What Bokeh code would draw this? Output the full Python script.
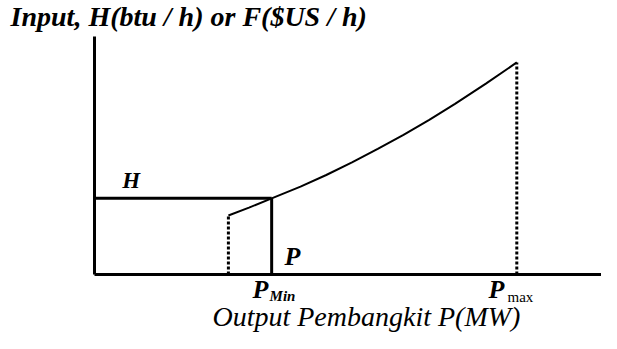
from bokeh.plotting import figure
from bokeh.models import Label
from bokeh.embed import file_html
from bokeh.resources import INLINE

# Data (axis units: P and F as % of axis length)
p_start = 26.0
p_min = 34.4
p_max = 82.0
h_level = 32.0
axis_x_end = 98.4
axis_y_end = 100.0
curve_P = [26.0, 30.0, 34.4, 40.0, 45.0, 50.0, 55.0, 60.0, 65.0, 70.0, 76.0, 82.0]
curve_F = [24.8, 28.1, 32.0, 36.9, 41.8, 47.1, 52.8, 58.7, 65.0, 71.7, 80.2, 89.1]

title_text = "Input, H(btu / h) or F($US / h)"
xlabel_text = "Output Pembangkit P(MW)"

FONT = "Liberation Serif"
black = "black"

p = figure(width=601, height=333, output_backend="svg", toolbar_location=None,
           x_range=(-94 / 5.15, 507 / 5.15), y_range=(-59 / 2.38, 274 / 2.38),
           min_border=0)
p.min_border_left = p.min_border_right = p.min_border_top = p.min_border_bottom = 0
p.outline_line_color = None
p.grid.visible = False
p.axis.visible = False
p.background_fill_color = "white"
p.border_fill_color = "white"

# axis lines
p.line([0, axis_x_end], [0, 0], line_width=3, color=black)
p.line([0, 0], [0, axis_y_end], line_width=3, color=black)
# H rectangle (top and right side)
p.line([0, p_min], [h_level, h_level], line_width=3, color=black)
p.line([p_min, p_min], [0, h_level], line_width=3, color=black)
# input-output curve
p.line(curve_P, curve_F, line_width=2, color=black)
# dotted verticals
p.line([p_start, p_start], [0, curve_F[0]], line_width=3, color=black, line_dash="3 2")
p.line([p_max, p_max], [0, curve_F[-1]], line_width=3, color=black, line_dash="3 2")

def lab(x, y, t, size, style="bold italic", align="left"):
    p.add_layout(Label(x=x, y=y, text=t, text_font=FONT, text_font_size=f"{size}px",
                       text_font_style=style, text_align=align, text_baseline="alphabetic",
                       text_color=black))

lab(-16.3, 108.4, title_text, 28)
lab(5.4, 39.3, "H", 23)
lab(36.9, 7.5, "P", 26)
lab(30.7, -6.2, "P", 26)
lab(34.0, -9.0, "Min", 15)
lab(76.5, -6.2, "P", 26)
lab(80.2, -9.6, "max", 15, style="normal")
lab(52.8, -17.5, xlabel_text, 28, style="italic", align="center")

open("out.html", "w").write(file_html(p, INLINE))
